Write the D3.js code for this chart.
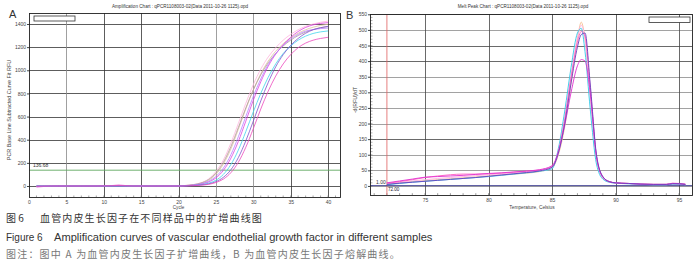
<!DOCTYPE html>
<html>
<head>
<meta charset="utf-8">
<script src="https://cdn.jsdelivr.net/npm/d3@7"></script>
<style>
  body { margin: 0; background: #fff; }
  svg { display: block; font-family: "Liberation Sans", Arial, sans-serif; }
  .tick text { fill: #444; font-size: 5px; }
</style>
</head>
<body>
<div id="container"></div>
<script>
// ---- panel A: amplification curves (RFU per cycle) ----
var cycles = [1,2,3,4,5,6,7,8,9,10,11,12,13,14,15,16,17,18,19,20,
              21,22,23,24,25,26,27,28,29,30,31,32,33,34,35,36,37,38,39,40];

var ampLightPink = [-2,-1,0,0,1,0,0,1,1,2,4,8,3,1,0,0,1,0,0,1,
                    5,12,28,60,125,225,370,540,715,875,1010,1115,1195,1260,1310,1350,1380,1400,1415,1425];
var ampTan       = [0,0,0,0,0,0,0,0,0,0,1,1,0,0,0,0,0,0,0,1,
                    4,10,22,48,100,190,320,490,665,830,970,1080,1165,1230,1280,1320,1350,1372,1388,1398];
var ampGray      = [0,0,0,0,0,0,0,0,0,0,0,1,1,0,0,0,0,0,0,1,
                    5,12,26,55,112,205,340,505,675,830,960,1065,1145,1210,1260,1300,1330,1352,1368,1378];
var ampMagenta   = [-9,-4,-1,0,0,0,-1,0,0,1,3,7,4,1,0,-1,0,0,0,1,
                    3,7,16,34,70,135,240,385,560,740,900,1035,1140,1220,1285,1335,1370,1392,1405,1412];
var ampViolet    = [0,0,0,0,0,0,0,0,0,0,0,0,0,0,0,0,0,0,0,1,
                    3,8,19,40,82,155,270,425,600,775,925,1050,1145,1215,1270,1310,1338,1352,1360,1365];
var ampCyan      = [0,0,0,0,0,0,0,0,0,0,0,1,0,0,0,0,0,0,0,0,
                    2,5,11,24,50,100,185,310,470,640,800,940,1055,1145,1210,1260,1295,1318,1332,1340];
var ampPurple    = [0,0,0,0,0,0,0,0,0,0,0,0,0,0,0,0,0,0,0,0,
                    1,4,9,18,38,75,140,245,390,560,735,895,1030,1135,1215,1275,1320,1350,1368,1380];
var ampPink      = [-3,-1,0,0,0,0,0,0,0,1,2,5,2,0,0,0,0,0,0,0,
                    1,3,7,14,30,60,115,205,335,495,665,820,950,1055,1135,1195,1235,1260,1275,1285];

var ampSeries = [
  {name: "A1", color: "#ffb4dc", values: ampLightPink},
  {name: "A2", color: "#dcc0a0", values: ampTan},
  {name: "A3", color: "#b09a9a", values: ampGray},
  {name: "A4", color: "#e040e0", values: ampMagenta},
  {name: "A5", color: "#b880ff", values: ampViolet},
  {name: "A6", color: "#40d4ec", values: ampCyan},
  {name: "A7", color: "#8050cc", values: ampPurple},
  {name: "A8", color: "#ec48bc", values: ampPink}
];
var ampThreshold = 136.68;
var ampYTicks = [0, 200, 400, 600, 800, 1000, 1200, 1400];
var ampXTicks = [0, 5, 10, 15, 20, 25, 30, 35, 40];

// ---- panel B: melt peak curves (-d(RFU)/dT per temperature) ----
var temps = [72,73,74,75,76,77,78,79,80,81,82,83,84,85,85.5,86,86.5,87,87.3,87.6,88,88.5,89,89.5,90,91,92,93,94,94.5,95,95.5];

var meltOrange    = [6,10,14,17,20,23,26,29,32,35,38,41,46,58,100,190,330,470,525,470,300,90,28,14,10,8,6,5,5,7,6,5];
var meltCyan      = [4,8,12,15,18,21,24,27,30,34,38,42,47,55,120,240,380,490,505,430,250,70,22,12,9,7,5,4,4,6,6,4];
var meltPurple    = [5,9,12,15,18,21,24,27,31,35,39,43,48,60,105,200,330,445,485,490,330,100,30,14,10,8,6,5,5,7,7,5];
var meltMagenta   = [10,16,22,28,30,32,34,37,40,42,45,48,52,65,110,195,300,385,405,400,300,95,28,14,10,8,6,5,5,8,7,5];
var meltPink      = [8,14,20,27,32,36,38,38,39,41,44,47,51,62,112,215,350,460,495,480,320,95,30,14,10,8,6,5,5,9,8,6];
var meltLightPink = [6,11,16,20,24,27,30,33,36,38,41,44,48,58,105,210,350,475,515,470,290,85,25,12,9,7,5,4,4,6,6,4];

var meltSeries = [
  {name: "B1", color: "#f5c090", values: meltOrange},
  {name: "B2", color: "#ffb0e0", values: meltLightPink},
  {name: "B3", color: "#30c8e8", values: meltCyan},
  {name: "B4", color: "#ff60c0", values: meltPink},
  {name: "B5", color: "#e030d0", values: meltMagenta},
  {name: "B6", color: "#6a40c0", values: meltPurple}
];
var meltThreshold = 1.0;
var meltStart = 72;
var meltYTicks = [0, 50, 100, 150, 200, 250, 300, 350, 400, 450, 500, 550];
var meltXTicks = [75, 80, 85, 90, 95];

var captionCn = "血管内皮生长因子在不同样品中的扩增曲线图";
var captionEn = "Amplification curves of vascular endothelial growth factor in different samples";
var captionNote = "图注：图中 A 为血管内皮生长因子扩增曲线，B 为血管内皮生长因子熔解曲线。";

var W = 700, H = 269;
var svg = d3.select("#container").append("svg")
    .attr("width", W)
    .attr("height", H);

// ================= panel A =================
var a = {left: 29, right: 340, top: 13, bottom: 197};
var xA = d3.scaleLinear().domain([0, 41.6]).range([a.left, a.right]);
var yA = d3.scaleLinear().domain([-95, 1495]).range([a.bottom, a.top]);

var gA = svg.append("g");

// grid
gA.append("g").selectAll("line")
    .data(ampYTicks)
  .enter().append("line")
    .attr("x1", a.left).attr("x2", a.right)
    .attr("y1", function(d) { return Math.round(yA(d)) + 0.5; })
    .attr("y2", function(d) { return Math.round(yA(d)) + 0.5; })
    .attr("stroke", "#333").attr("stroke-width", 0.8);
gA.append("g").selectAll("line")
    .data(ampXTicks.slice(1))
  .enter().append("line")
    .attr("y1", a.top).attr("y2", a.bottom)
    .attr("x1", function(d) { return Math.round(xA(d)) + 0.5; })
    .attr("x2", function(d) { return Math.round(xA(d)) + 0.5; })
    .attr("stroke", function(d, i) { return (d == 5 || d == 25 || d == 30) ? "#888" : "#333"; })
    .attr("stroke-width", 0.8);

// axes
gA.append("g")
    .attr("transform", "translate(" + a.left + ",0)")
    .call(d3.axisLeft(yA).tickValues(ampYTicks).tickFormat(d3.format("d")).tickSize(2).tickPadding(1))
    .call(function(g) { g.select(".domain").remove(); g.selectAll(".tick line").attr("stroke", "#444"); });
gA.append("g")
    .attr("transform", "translate(0," + a.bottom + ")")
    .call(d3.axisBottom(xA).tickValues(ampXTicks).tickSize(0).tickPadding(3))
    .call(function(g) { g.select(".domain").remove(); });
// minor ticks every cycle
gA.append("g").selectAll("line")
    .data(d3.range(1, 42))
  .enter().append("line")
    .attr("x1", function(d) { return xA(d); }).attr("x2", function(d) { return xA(d); })
    .attr("y1", a.bottom).attr("y2", a.bottom - 1.5)
    .attr("stroke", "#666").attr("stroke-width", 0.6);

// threshold
gA.append("line")
    .attr("x1", a.left).attr("x2", a.right)
    .attr("y1", yA(ampThreshold)).attr("y2", yA(ampThreshold))
    .attr("stroke", "#60a860").attr("stroke-width", 0.9);
gA.append("text")
    .attr("x", a.left + 4).attr("y", yA(ampThreshold) - 3)
    .attr("font-size", 5).attr("fill", "#333")
    .text(ampThreshold.toFixed(2));

// curves
var lineA = d3.line()
    .x(function(d, i) { return xA(cycles[i]); })
    .y(function(d) { return yA(d); })
    .curve(d3.curveMonotoneX);
gA.append("g").selectAll("path")
    .data(ampSeries)
  .enter().append("path")
    .attr("d", function(s) { return lineA(s.values); })
    .attr("fill", "none")
    .attr("stroke", function(s) { return s.color; })
    .attr("stroke-width", 0.8);

// frame
gA.append("rect")
    .attr("x", a.left + 0.5).attr("y", a.top + 0.5)
    .attr("width", a.right - a.left).attr("height", a.bottom - a.top)
    .attr("fill", "none").attr("stroke", "#222").attr("stroke-width", 0.9);
gA.append("rect")
    .attr("x", 34).attr("y", 16).attr("width", 41).attr("height", 5)
    .attr("fill", "#fff").attr("stroke", "#333").attr("stroke-width", 0.8);

gA.append("text")
    .attr("x", 180).attr("y", 8).attr("text-anchor", "middle")
    .attr("font-size", 4.6).attr("fill", "#333")
    .text("Amplification Chart : qPCR1108003-02(Data 2011-10-26 1125).opd");
gA.append("text")
    .attr("x", 9).attr("y", 18)
    .attr("font-size", 11).attr("fill", "#333")
    .text("A");
gA.append("text")
    .attr("transform", "translate(11,110) rotate(-90)")
    .attr("text-anchor", "middle")
    .attr("font-size", 5.4).attr("fill", "#444")
    .text("PCR Base Line Subtracted Curve Fit RFU");
gA.append("text")
    .attr("x", xA(20)).attr("y", 209).attr("text-anchor", "middle")
    .attr("font-size", 4.6).attr("fill", "#444")
    .text("Cycle");

// ================= panel B =================
var b = {left: 370, right: 692, top: 14, bottom: 195};
var xB = d3.scaleLinear().domain([70.67, 96.02]).range([b.left, b.right]);
var yB = d3.scaleLinear().domain([-29, 551]).range([b.bottom, b.top]);

var gB = svg.append("g");

gB.append("g").selectAll("line")
    .data(meltYTicks)
  .enter().append("line")
    .attr("x1", b.left).attr("x2", b.right)
    .attr("y1", function(d) { return Math.round(yB(d)) + 0.5; })
    .attr("y2", function(d) { return Math.round(yB(d)) + 0.5; })
    .attr("stroke", function(d) { return (d == 150 || d == 400 || d == 450) ? "#444" : "#8a8a8a"; })
    .attr("stroke-width", 0.8);
gB.append("g").selectAll("line")
    .data(meltXTicks)
  .enter().append("line")
    .attr("y1", b.top).attr("y2", b.bottom)
    .attr("x1", function(d) { return Math.round(xB(d)) + 0.5; })
    .attr("x2", function(d) { return Math.round(xB(d)) + 0.5; })
    .attr("stroke", "#444").attr("stroke-width", 0.8);

gB.append("g")
    .attr("transform", "translate(" + b.left + ",0)")
    .call(d3.axisLeft(yB).tickValues(meltYTicks).tickSize(2).tickPadding(1))
    .call(function(g) { g.select(".domain").remove(); g.selectAll(".tick line").attr("stroke", "#444"); });
gB.append("g")
    .attr("transform", "translate(0," + b.bottom + ")")
    .call(d3.axisBottom(xB).tickValues(meltXTicks).tickSize(0).tickPadding(3))
    .call(function(g) { g.select(".domain").remove(); });
// minor ticks
gB.append("g").selectAll("line")
    .data(d3.range(0, 550, 10))
  .enter().append("line")
    .attr("x1", b.left).attr("x2", b.left + 2.5)
    .attr("y1", function(d) { return yB(d); }).attr("y2", function(d) { return yB(d); })
    .attr("stroke", "#666").attr("stroke-width", 0.5);
gB.append("g").selectAll("line")
    .data(d3.range(71, 96))
  .enter().append("line")
    .attr("x1", function(d) { return xB(d); }).attr("x2", function(d) { return xB(d); })
    .attr("y1", b.bottom).attr("y2", b.bottom - 1.8)
    .attr("stroke", "#555").attr("stroke-width", 0.6);

// start line and threshold
gB.append("line")
    .attr("x1", xB(meltStart)).attr("x2", xB(meltStart))
    .attr("y1", b.top).attr("y2", b.bottom)
    .attr("stroke", "#e06060").attr("stroke-width", 0.8);
gB.append("line")
    .attr("x1", b.left).attr("x2", b.right)
    .attr("y1", yB(meltThreshold)).attr("y2", yB(meltThreshold))
    .attr("stroke", "#34348c").attr("stroke-width", 0.9);
gB.append("text")
    .attr("x", b.left + 6).attr("y", yB(meltThreshold) - 2)
    .attr("font-size", 5).attr("fill", "#333")
    .text(meltThreshold.toFixed(2));
gB.append("text")
    .attr("x", xB(meltStart) + 1).attr("y", yB(meltThreshold) + 5)
    .attr("font-size", 4.6).attr("fill", "#223")
    .text(meltStart.toFixed(2));

var lineB = d3.line()
    .x(function(d, i) { return xB(temps[i]); })
    .y(function(d) { return yB(d); })
    .curve(d3.curveMonotoneX);
gB.append("g").selectAll("path")
    .data(meltSeries)
  .enter().append("path")
    .attr("d", function(s) { return lineB(s.values); })
    .attr("fill", "none")
    .attr("stroke", function(s) { return s.color; })
    .attr("stroke-width", 0.9);

gB.append("rect")
    .attr("x", b.left + 0.5).attr("y", b.top + 0.5)
    .attr("width", b.right - b.left).attr("height", b.bottom - b.top)
    .attr("fill", "none").attr("stroke", "#222").attr("stroke-width", 0.9);
gB.append("rect")
    .attr("x", 649).attr("y", 17).attr("width", 41).attr("height", 5.5)
    .attr("fill", "#fff").attr("stroke", "#333").attr("stroke-width", 0.8);

gB.append("text")
    .attr("x", 523).attr("y", 8).attr("text-anchor", "middle")
    .attr("font-size", 4.6).attr("fill", "#333")
    .text("Melt Peak Chart : qPCR1108003-02(Data 2011-10-26 1125).opd");
gB.append("text")
    .attr("x", 346).attr("y", 19)
    .attr("font-size", 11).attr("fill", "#333")
    .text("B");
gB.append("text")
    .attr("transform", "translate(357,100) rotate(-90)")
    .attr("text-anchor", "middle")
    .attr("font-size", 5.2).attr("fill", "#444")
    .text("-d(RFU)/dT");
gB.append("text")
    .attr("x", 532).attr("y", 209).attr("text-anchor", "middle")
    .attr("font-size", 4.8).attr("fill", "#444")
    .text("Temperature, Celsius");

// ================= caption =================
var cap = svg.append("g").attr("fill", "#333");
cap.append("text").attr("x", 6).attr("y", 222)
    .attr("font-family", "'Noto Sans CJK SC', sans-serif").attr("font-size", 10)
    .text("图 6");
cap.append("text").attr("x", 40).attr("y", 222)
    .attr("font-family", "'Noto Sans CJK SC', sans-serif").attr("font-size", 10)
    .attr("letter-spacing", 1.15)
    .text(captionCn);
cap.append("text").attr("x", 6).attr("y", 241)
    .attr("font-size", 10)
    .text("Figure 6");
cap.append("text").attr("x", 54).attr("y", 241)
    .attr("font-size", 11.1)
    .text(captionEn);
cap.append("text").attr("x", 6).attr("y", 258)
    .attr("font-family", "'Noto Sans CJK SC', sans-serif").attr("font-size", 10)
    .attr("letter-spacing", 1.2)
    .attr("fill", "#777")
    .text(captionNote);
</script>
</body>
</html>
